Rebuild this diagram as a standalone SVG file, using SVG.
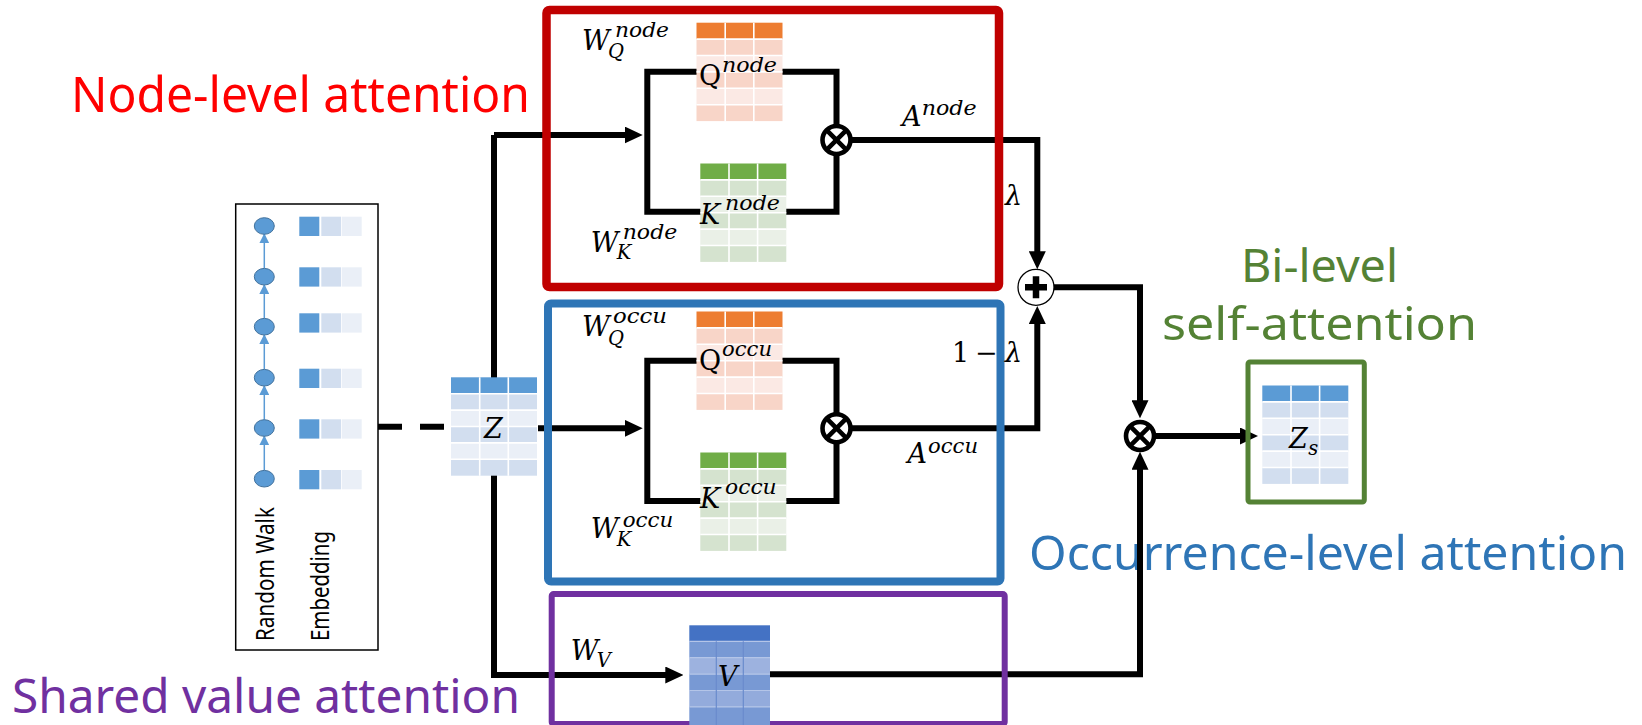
<svg xmlns="http://www.w3.org/2000/svg" xmlns:xlink="http://www.w3.org/1999/xlink" width="1642" height="725" viewBox="0 0 1642 725">
  <style>
    .ttl{font-family:"Noto Sans","DejaVu Sans",sans-serif}
    .m{font-family:"DejaVu Serif","Liberation Serif",serif;font-style:italic;font-size:27px;fill:#000}
    .s{font-size:19.5px}
    .up{font-style:normal}
    .wire{fill:none;stroke:#000;stroke-width:6;stroke-linejoin:miter}
    .arr{marker-end:url(#ah)}
    .box{fill:none;stroke-linejoin:round}
    .mul{fill:#fff;stroke:#000;stroke-width:4.6}
    .mulx{stroke:#000;stroke-width:4.6}
    .tz{--h:#5B9BD5;--d:#D2DEEF;--l:#EAEFF7}
    .tq{--h:#ED7D31;--d:#F8D5C8;--l:#FBE9E4}
    .tk{--h:#70AD47;--d:#D5E3CF;--l:#EAF0E7}
    .rw{fill:#5B9BD5;stroke:#41719C;stroke-width:1}
    .rwl{stroke:#5B9BD5;stroke-width:1.5;marker-end:url(#rwh)}
    .e1{fill:#5B9BD5}.e2{fill:#D2DEEF}.e3{fill:#EAEFF7}
  </style>
  <defs>
    <marker id="ah" markerUnits="userSpaceOnUse" markerWidth="18" markerHeight="17" refX="8" refY="8.5" orient="auto">
      <path d="M0,0 L18,8.5 L0,17 z" fill="#000"/>
    </marker>
    <marker id="rwh" markerUnits="userSpaceOnUse" markerWidth="10" markerHeight="10" refX="9" refY="5" orient="auto">
      <path d="M0,0 L10,5 L0,10 z" fill="#5B9BD5"/>
    </marker>
    <!-- 3 x 6 table with a coloured header row and banded rows -->
    <g id="tbl">
      <rect width="86" height="16.4" style="fill:var(--h)"/>
      <rect y="16.4" width="86" height="16.4" style="fill:var(--d)"/>
      <rect y="32.8" width="86" height="16.4" style="fill:var(--l)"/>
      <rect y="49.2" width="86" height="16.4" style="fill:var(--d)"/>
      <rect y="65.6" width="86" height="16.4" style="fill:var(--l)"/>
      <rect y="82" width="86" height="16.4" style="fill:var(--d)"/>
      <path d="M28.7 0V98.4M57.3 0V98.4M0 16.4H86M0 32.8H86M0 49.2H86M0 65.6H86M0 82H86" stroke="#fff" stroke-width="1.6"/>
    </g>
  </defs>

  <!-- section captions -->
  <text class="ttl" x="71" y="112" font-size="50" fill="#FF0000" textLength="459" lengthAdjust="spacingAndGlyphs">Node-level attention</text>
  <text class="ttl" x="1241" y="282" font-size="46" fill="#548235" textLength="157" lengthAdjust="spacingAndGlyphs">Bi-level</text>
  <text class="ttl" x="1162" y="340" font-size="46" fill="#548235" textLength="315" lengthAdjust="spacingAndGlyphs">self-attention</text>
  <text class="ttl" x="1029" y="570" font-size="48" fill="#2E75B6" textLength="598" lengthAdjust="spacingAndGlyphs">Occurrence-level attention</text>
  <text class="ttl" x="12" y="713" font-size="48" fill="#7030A0" textLength="508" lengthAdjust="spacingAndGlyphs">Shared value attention</text>

  <!-- random walk and its embeddings -->
  <g id="walk">
    <rect x="235.7" y="204" width="142.3" height="446" fill="#fff" stroke="#000" stroke-width="1.5"/>
    <line class="rwl" x1="264.3" y1="470.4" x2="264.3" y2="436.3"/>
    <line class="rwl" x1="264.3" y1="419.7" x2="264.3" y2="386"/>
    <line class="rwl" x1="264.3" y1="369.4" x2="264.3" y2="335"/>
    <line class="rwl" x1="264.3" y1="318.4" x2="264.3" y2="285"/>
    <line class="rwl" x1="264.3" y1="268.4" x2="264.3" y2="234.3"/>
    <ellipse class="rw" cx="264.3" cy="226" rx="10" ry="8.3"/>
    <ellipse class="rw" cx="264.3" cy="276.7" rx="10" ry="8.3"/>
    <ellipse class="rw" cx="264.3" cy="326.7" rx="10" ry="8.3"/>
    <ellipse class="rw" cx="264.3" cy="377.7" rx="10" ry="8.3"/>
    <ellipse class="rw" cx="264.3" cy="428" rx="10" ry="8.3"/>
    <ellipse class="rw" cx="264.3" cy="478.7" rx="10" ry="8.3"/>
    <g id="emb">
      <rect class="e1" x="299.3" y="216.7" width="20" height="19.3"/><rect class="e2" x="321.3" y="216.7" width="19.7" height="19.3"/><rect class="e3" x="341.7" y="216.7" width="20" height="19.3"/>
      <rect class="e1" x="299.3" y="267.3" width="20" height="19.3"/><rect class="e2" x="321.3" y="267.3" width="19.7" height="19.3"/><rect class="e3" x="341.7" y="267.3" width="20" height="19.3"/>
      <rect class="e1" x="299.3" y="313.3" width="20" height="19.3"/><rect class="e2" x="321.3" y="313.3" width="19.7" height="19.3"/><rect class="e3" x="341.7" y="313.3" width="20" height="19.3"/>
      <rect class="e1" x="299.3" y="368.7" width="20" height="19.3"/><rect class="e2" x="321.3" y="368.7" width="19.7" height="19.3"/><rect class="e3" x="341.7" y="368.7" width="20" height="19.3"/>
      <rect class="e1" x="299.3" y="419.3" width="20" height="19.3"/><rect class="e2" x="321.3" y="419.3" width="19.7" height="19.3"/><rect class="e3" x="341.7" y="419.3" width="20" height="19.3"/>
      <rect class="e1" x="299.3" y="470" width="20" height="19.3"/><rect class="e2" x="321.3" y="470" width="19.7" height="19.3"/><rect class="e3" x="341.7" y="470" width="20" height="19.3"/>
    </g>
    <text class="ttl" transform="translate(274,641) rotate(-90)" font-size="25" textLength="134" lengthAdjust="spacingAndGlyphs">Random Walk</text>
    <text class="ttl" transform="translate(329,641) rotate(-90)" font-size="25" textLength="110" lengthAdjust="spacingAndGlyphs">Embedding</text>
  </g>

  <!-- connectors -->
  <g id="connectors">
    <path class="wire" d="M378 426.7H445" stroke-dasharray="24 18"/>
    <path class="wire arr" d="M494 135V675H673.3"/>
    <path class="wire arr" d="M494 135H632.7"/>
    <path class="wire arr" d="M538 428.3H632.7"/>
    <path class="wire" d="M697 71.7H647.3V211.7H701"/>
    <path class="wire" d="M782 71.7H836.5V211.7H786"/>
    <path class="wire" d="M697 360.7H647.3V501H701"/>
    <path class="wire" d="M782 360.7H836.5V501H786"/>
    <path class="wire arr" d="M850 140H1037.3V259.3"/>
    <path class="wire arr" d="M850 428.3H1037.3V316"/>
    <path class="wire arr" d="M1054 287.3H1140V408.3"/>
    <path class="wire arr" d="M770 674.3H1140V461.7"/>
    <path class="wire arr" d="M1154 436H1248"/>
  </g>

  <!-- attention blocks -->
  <g id="node-level">
    <rect class="box" x="546.5" y="10" width="452.5" height="277" rx="3" stroke="#C00000" stroke-width="8.5"/>
  </g>
  <g id="occurrence-level">
    <rect class="box" x="548" y="303.5" width="452.5" height="278" rx="3" stroke="#2E75B6" stroke-width="8"/>
  </g>
  <g id="shared-value">
    <rect class="box" x="551.7" y="594" width="453" height="130" rx="2" stroke="#7030A0" stroke-width="6"/>
  </g>
  <g id="bi-level-out">
    <rect class="box" x="1248" y="362" width="116.3" height="140" rx="2" stroke="#548235" stroke-width="5"/>
  </g>

  <!-- matrices -->
  <g id="z">
    <use xlink:href="#tbl" class="tz" x="451" y="377.3"/>
    <text class="m" x="484" y="438" font-size="29">Z</text>
  </g>
  <g id="q-node">
    <use xlink:href="#tbl" class="tq" x="696.5" y="22.7"/>
    <text class="m up" x="699" y="85" font-size="30">Q</text>
    <text class="m s" x="722" y="71.7" textLength="55" lengthAdjust="spacingAndGlyphs">node</text>
  </g>
  <g id="k-node">
    <use xlink:href="#tbl" class="tk" x="700.3" y="163.5"/>
    <text class="m" x="700" y="224" font-size="29">K</text>
    <text class="m s" x="725" y="210" textLength="55" lengthAdjust="spacingAndGlyphs">node</text>
  </g>
  <g id="q-occu">
    <use xlink:href="#tbl" class="tq" x="696.5" y="311.5"/>
    <text class="m up" x="699" y="370" font-size="30">Q</text>
    <text class="m s" x="722" y="356" textLength="50" lengthAdjust="spacingAndGlyphs">occu</text>
  </g>
  <g id="k-occu">
    <use xlink:href="#tbl" class="tk" x="700.3" y="452.5"/>
    <text class="m" x="700" y="508.3" font-size="29">K</text>
    <text class="m s" x="725" y="494" textLength="51.7" lengthAdjust="spacingAndGlyphs">occu</text>
  </g>
  <g id="v">
    <rect x="689.3" y="625.3" width="80.7" height="16" fill="#4472C4"/>
    <rect x="689.3" y="641.3" width="80.7" height="16.4" fill="#7899D4"/>
    <rect x="689.3" y="657.7" width="80.7" height="16.4" fill="#9DB2DF"/>
    <rect x="689.3" y="674.1" width="80.7" height="16.4" fill="#7899D4"/>
    <rect x="689.3" y="690.5" width="80.7" height="16.4" fill="#93ABDC"/>
    <rect x="689.3" y="706.9" width="80.7" height="18.1" fill="#7899D4"/>
    <path d="M689.3 641.3H770M689.3 657.7H770M689.3 674.1H770M689.3 690.5H770M689.3 706.9H770" stroke="#B4C5E8" stroke-width="1.2"/>
    <path d="M716.3 641.3V725M743.3 641.3V725" stroke="#6A8BCD" stroke-width="1.2"/>
    <text class="m" x="718" y="686" font-size="29">V</text>
  </g>
  <g id="zs">
    <use xlink:href="#tbl" class="tz" x="1262.3" y="385.5"/>
    <text class="m" x="1289" y="448.3" font-size="29">Z</text>
    <text class="m s" x="1308.3" y="455" font-size="22">s</text>
  </g>

  <!-- operators -->
  <g id="mul-node">
    <circle class="mul" cx="836.5" cy="140" r="14"/>
    <path class="mulx" d="M826.6 130.1L846.4 149.9M846.4 130.1L826.6 149.9"/>
  </g>
  <g id="mul-occu">
    <circle class="mul" cx="836.5" cy="428.3" r="14"/>
    <path class="mulx" d="M826.6 418.4L846.4 438.2M846.4 418.4L826.6 438.2"/>
  </g>
  <g id="sum">
    <circle cx="1036" cy="287.3" r="18" fill="#fff" stroke="#000" stroke-width="1.3"/>
    <path d="M1025 287.3H1047M1036 276.3V298.3" stroke="#000" stroke-width="6.5"/>
  </g>
  <g id="mul-out">
    <circle class="mul" cx="1140" cy="436" r="14"/>
    <path class="mulx" d="M1130.1 426.1L1149.9 445.9M1149.9 426.1L1130.1 445.9"/>
  </g>

  <!-- weight and score labels -->
  <g id="labels">
    <text class="m" x="582" y="50" font-size="29">W</text>
    <text class="m s" x="608" y="58">Q</text>
    <text class="m s" x="615" y="37" textLength="54" lengthAdjust="spacingAndGlyphs">node</text>
    <text class="m" x="590.7" y="251.7" font-size="29">W</text>
    <text class="m s" x="616.7" y="259">K</text>
    <text class="m s" x="622.7" y="239.3" textLength="54.6" lengthAdjust="spacingAndGlyphs">node</text>
    <text class="m" x="902" y="126" font-size="29">A</text>
    <text class="m s" x="921.7" y="115" textLength="55" lengthAdjust="spacingAndGlyphs">node</text>
    <text class="m" x="1005" y="205" font-size="28">λ</text>

    <text class="m" x="582" y="335.7" font-size="29">W</text>
    <text class="m s" x="608" y="345">Q</text>
    <text class="m s" x="613" y="323" textLength="54" lengthAdjust="spacingAndGlyphs">occu</text>
    <text class="m" x="590.7" y="538.3" font-size="29">W</text>
    <text class="m s" x="616.7" y="546">K</text>
    <text class="m s" x="622.7" y="526.7" textLength="50.6" lengthAdjust="spacingAndGlyphs">occu</text>
    <text class="m" x="907.5" y="463.3" font-size="29">A</text>
    <text class="m s" x="928" y="453.3" textLength="50" lengthAdjust="spacingAndGlyphs">occu</text>
    <text class="m" y="361.7" font-size="28"><tspan class="up" x="952">1</tspan><tspan class="up" x="975">−</tspan><tspan x="1005">λ</tspan></text>

    <text class="m" x="570.7" y="660" font-size="29">W</text>
    <text class="m s" x="596.7" y="667.3">V</text>
  </g>
</svg>
